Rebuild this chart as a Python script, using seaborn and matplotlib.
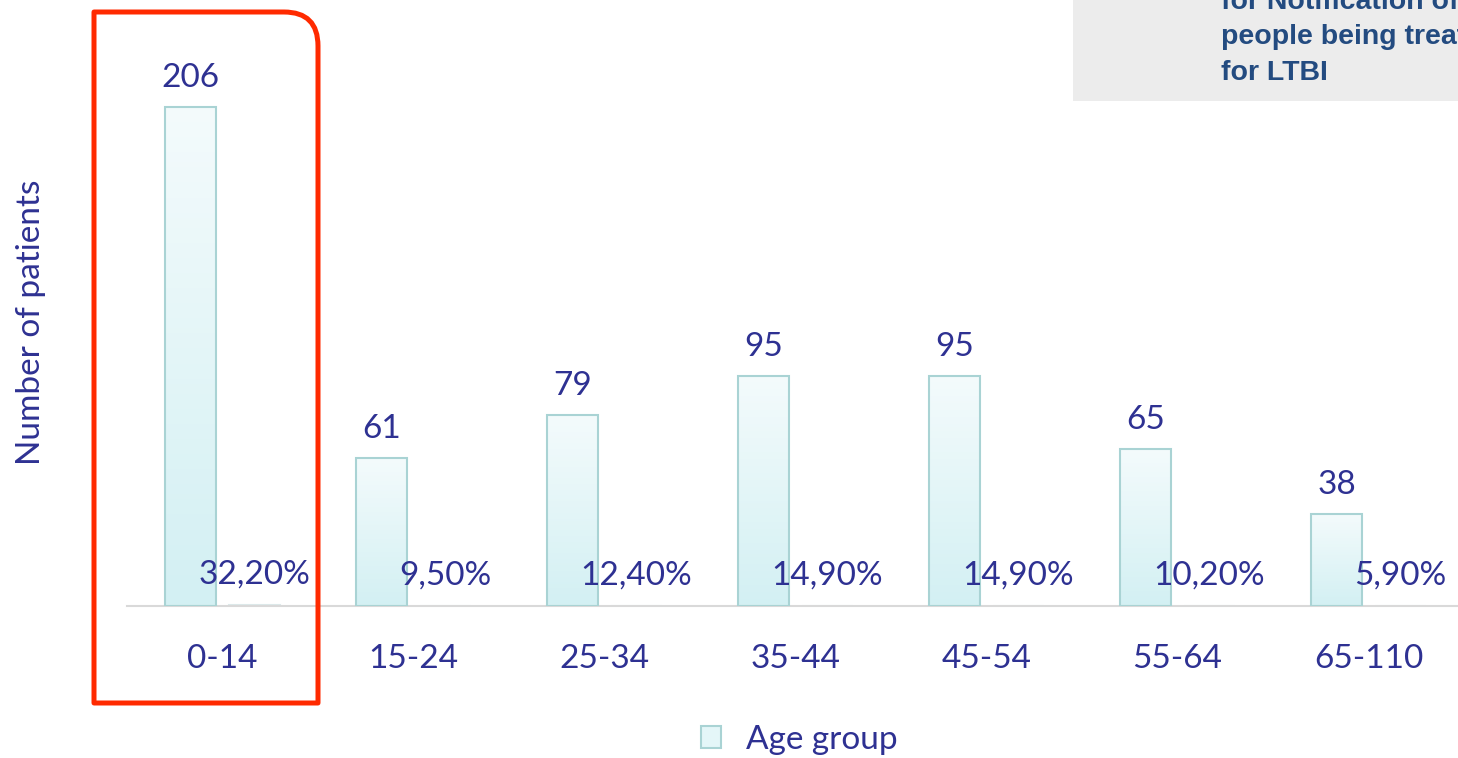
import numpy as np
import pandas as pd
import matplotlib
matplotlib.use("Agg")
import matplotlib.pyplot as plt
import seaborn as sns
from matplotlib.path import Path
from matplotlib.patches import PathPatch, Rectangle, Patch

# ── Data ──────────────────────────────────────────────────────
age_groups = ["0-14", "15-24", "25-34", "35-44", "45-54", "55-64", "65-110"]
patients = [206, 61, 79, 95, 95, 65, 38]
share = [0.322, 0.095, 0.124, 0.149, 0.149, 0.102, 0.059]
share_labels = ["32,20%", "9,50%", "12,40%", "14,90%", "14,90%", "10,20%", "5,90%"]

df = pd.DataFrame({
    "age": age_groups * 2,
    "value": patients + share,
    "series": ["Age group"] * len(age_groups) + ["Share"] * len(age_groups),
})

TEXT = "#2E3192"
FS = 24

sns.set_theme(style="white")
plt.rcParams["font.family"] = ["Lato", "DejaVu Sans"]

fig = plt.figure(figsize=(14.58, 7.58), dpi=100)
ax = fig.add_axes([127 / 1458, 0.2005, 1337 / 1458, 0.799])

sns.barplot(data=df, x="age", y="value", hue="series", order=age_groups,
            hue_order=["Age group", "Share"], width=0.667, gap=0.2,
            palette=["#dff4f6", "#dde9ea"], legend=False, ax=ax)

# gradient fill for the main bars
grad = np.linspace(0, 1, 256).reshape(-1, 1)
cmap = matplotlib.colors.LinearSegmentedColormap.from_list("g", ["#d3f0f3", "#f4fbfc"])
for p in ax.containers[0]:
    x0, w, h = p.get_x(), p.get_width(), p.get_height()
    im = ax.imshow(grad, extent=[x0, x0 + w, 0, h], origin="lower",
                   aspect="auto", cmap=cmap, zorder=2)
    im.set_clip_path(p)
    p.set_facecolor("none")
    p.set_edgecolor("#a9d3d4")
    p.set_linewidth(1.5)
    p.set_zorder(3)
for p in ax.containers[1]:
    p.set_edgecolor("#dde9ea")
    p.set_linewidth(1.5)

ax.bar_label(ax.containers[0], padding=10, fontsize=FS, color=TEXT)
ax.bar_label(ax.containers[1], labels=share_labels, padding=11, fontsize=FS, color=TEXT)

ax.set_xlim(-0.5, 6.5)
ax.set_ylim(0, 250)
ax.set_yticks([])
ax.set_xlabel("")
ax.set_ylabel("Number of patients", fontsize=FS, color=TEXT, labelpad=58)
ax.yaxis.label.set_y(0.469)
ax.tick_params(axis="x", length=0, pad=27, labelsize=FS, labelcolor=TEXT)
for s in ["top", "right", "left"]:
    ax.spines[s].set_visible(False)
ax.spines["bottom"].set_color("#d9d9d9")
ax.spines["bottom"].set_linewidth(1.5)

fig.legend(handles=[Patch(facecolor="#e4f6f8", edgecolor="#a9d3d4", linewidth=1.5, label="Age group")],
           loc="center", bbox_to_anchor=(0.548, 0.024), frameon=False,
           fontsize=FS, labelcolor=TEXT, handlelength=0.6, handleheight=0.6,
           handletextpad=0.75)

# ── Grey note box (cut off at the edge, as in the source) ─────
fig.patches.append(Rectangle((1073 / 1458, 0.8668), 1, 0.2, transform=fig.transFigure,
                             facecolor="#ececec", edgecolor="none", zorder=0))
note_lines = ["for Notification of", "people being treated", "for LTBI"]
for txt, yb in zip(note_lines, [0.9885, 0.9420, 0.8950]):
    fig.text(0.8374, yb, txt, fontsize=20.5, fontweight="bold", color="#234B80",
             family="Liberation Sans", va="baseline", ha="left")

# ── Red highlight around the first group ─────────────────────
H = 7.58
def pt(x, y):
    return (x / 100, H - y / 100)
r = 34
verts = [pt(94, 703), pt(94, 12), pt(318 - r, 12), pt(318, 12), pt(318, 12 + r),
         pt(318, 703), pt(94, 703)]
codes = [Path.MOVETO, Path.LINETO, Path.LINETO, Path.CURVE3, Path.CURVE3,
         Path.LINETO, Path.CLOSEPOLY]
fig.patches.append(PathPatch(Path(verts, codes), transform=fig.dpi_scale_trans,
                             facecolor="none", edgecolor="#ff2a00", linewidth=3.6,
                             joinstyle="round", zorder=5))

plt.savefig("out.png", dpi=100)
plt.close()
